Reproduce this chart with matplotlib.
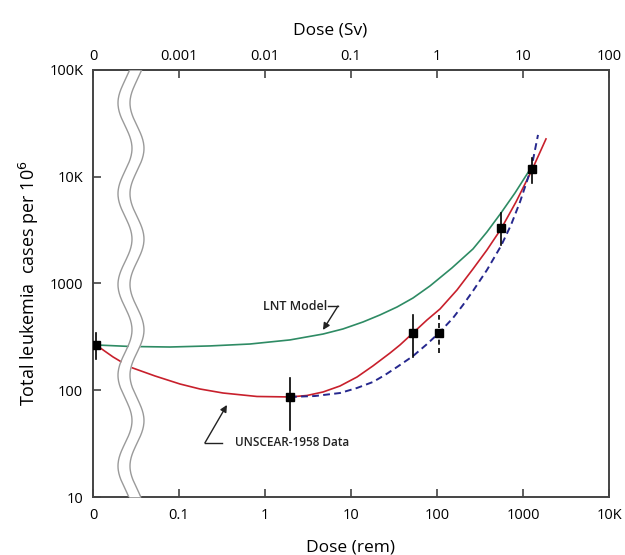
import matplotlib
matplotlib.use("Agg")
import matplotlib.pyplot as plt
import numpy as np

plt.rcParams['font.family'] = ['Open Sans', 'DejaVu Sans']

# dose in rem, cases per 10^6
lnt_dose = [0.01084, 0.0269, 0.0785, 0.229, 0.669, 1.953, 4.73, 8.07, 13.8, 21.7,
            34.3, 52.6, 82.9, 149, 262, 381, 555, 807, 1175]
lnt_cases = [265.5, 257, 254, 260, 271, 296, 336, 375, 436, 507,
             602, 731, 948, 1397, 2105, 3037, 4576, 7044, 11320]

fit_dose = [0.01084, 0.0171, 0.0269, 0.0526, 0.1027, 0.1754, 0.3248, 0.807, 1.953,
            3.078, 4.73, 7.45, 11.75, 18.0, 28.4, 37.1, 52.6, 76.5, 108.4, 170.8,
            262, 381, 555, 829, 1272, 1851]
fit_cases = [265.5, 205, 165, 136, 114.4, 102.7, 94.2, 87.4, 86.5,
             89.3, 96.3, 109.6, 133, 169, 223, 265.5, 344, 455, 577, 869,
             1367, 2060, 3239, 5800, 11570, 22580]

alt_dose = [1.953, 3.814, 7.45, 11.75, 18.0, 24.85, 34.3, 52.6, 74.5, 105.5,
            153.5, 200.6, 262, 381, 555, 725, 923, 1143, 1307, 1494]
alt_cases = [86.5, 88.3, 94.2, 105, 119.5, 139, 165, 209, 265.5, 344,
             475, 629, 851, 1338, 2246, 3532, 5800, 9734, 14350, 24620]

pt_dose = [0.01084, 1.953, 52.6, 105.5, 555, 1272]
pt_cases = [265.5, 86.5, 344, 344, 3300, 11700]
pt_hi = [347, 130, 507, 507, 4570, 15000]
pt_lo = [195, 42.5, 205, 223, 2300, 8740]
pt_dashed = [False, False, False, True, False, False]

rem_ticks = [0.01, 0.1, 1, 10, 100, 1000, 10000]
rem_labels = ['0', '0.1', '1', '10', '100', '1000', '10K']
sv_ticks = [0.0001, 0.001, 0.01, 0.1, 1, 10, 100]
sv_labels = ['0', '0.001', '0.01', '0.1', '1', '10', '100']
y_ticks = [10, 100, 1000, 10000, 100000]
y_labels = ['10', '100', '1000', '10K', '100K']

fig = plt.figure(figsize=(6.25, 5.55), dpi=100)
ax = fig.add_axes([0.1488, 0.1045, 0.8256, 0.7695])
ax.set_xscale('log')
ax.set_yscale('log')
ax.set_xlim(0.01, 10000)
ax.set_ylim(10, 100000)

ax.plot(lnt_dose, lnt_cases, color='#2e8b64', lw=1.2, zorder=2)
ax.plot(fit_dose, fit_cases, color='#c8202c', lw=1.2, zorder=2)
ax.plot(alt_dose, alt_cases, color='#26288e', lw=1.4, ls=(0, (3.5, 2.2)), zorder=2)

for d, c, hi, lo, dashed in zip(pt_dose, pt_cases, pt_hi, pt_lo, pt_dashed):
    ax.plot([d, d], [lo, hi], color='black', lw=1.2,
            ls=(0, (3, 2)) if dashed else '-', zorder=5)
ax.plot(pt_dose, pt_cases, 's', color='black', ms=6, zorder=6)

# axis break: two wavy lines, white band between them
yy = np.logspace(1, 5, 400)
t = 5 - np.log10(yy)
x_left = -1.628 + 0.0814 * np.cos(2 * np.pi * (t - 0.31) / 0.85 + np.pi)
x_right = x_left + 0.1395
ax.fill_betweenx(yy, 10 ** x_left, 10 ** x_right, color='white', lw=0, zorder=3)
ax.plot(10 ** x_left, yy, color='#9a9a9a', lw=1.0, zorder=4)
ax.plot(10 ** x_right, yy, color='#9a9a9a', lw=1.0, zorder=4)

# annotations
ax.text(2.23, 603, 'LNT Model', ha='center', va='center', fontsize=9,
        fontweight='semibold', color='#222222')
ax.plot([5.4, 7.06], [615, 615], color='#222222', lw=1.0)
ax.annotate('', xy=(4.72, 367), xytext=(7.06, 615),
            arrowprops=dict(arrowstyle='-|>', color='#222222', lw=1.0,
                            mutation_scale=10, shrinkA=0, shrinkB=0))

ax.text(2.06, 32.1, 'UNSCEAR-1958 Data', ha='center', va='center', fontsize=8.5,
        fontweight='semibold', color='#222222')
ax.plot([0.316, 0.200], [32.1, 32.1], color='#222222', lw=1.0)
ax.annotate('', xy=(0.361, 72.8), xytext=(0.200, 32.1),
            arrowprops=dict(arrowstyle='-|>', color='#222222', lw=1.0,
                            mutation_scale=10, shrinkA=0, shrinkB=0))

ax.set_xticks(rem_ticks)
ax.set_xticklabels(rem_labels)
ax.set_yticks(y_ticks)
ax.set_yticklabels(y_labels)
ax.minorticks_off()
ax.tick_params(direction='in', length=6, width=1.2, color='#444444',
               labelsize=10.5, pad=8)
ax.tick_params(axis='y', pad=7)

top = ax.secondary_xaxis('top', functions=(lambda x: x / 100, lambda x: x * 100))
top.set_xticks(sv_ticks)
top.set_xticklabels(sv_labels)
top.minorticks_off()
top.tick_params(direction='in', length=6, width=1.2, color='#444444',
                labelsize=10.5, pad=4.5)
top.spines['top'].set_linewidth(1.4)
top.spines['top'].set_color('#444444')
top.set_xlabel('Dose (Sv)', fontsize=12.5, labelpad=10)
top.xaxis.label.set_x(0.46)

for s in ax.spines.values():
    s.set_linewidth(1.4)
    s.set_color('#444444')

ax.set_xlabel('Dose (rem)', fontsize=12.5, labelpad=12)
ax.set_ylabel('Total leukemia  cases per 10$^6$', fontsize=13, labelpad=6)

plt.savefig('out.png', dpi=100)
plt.close()
